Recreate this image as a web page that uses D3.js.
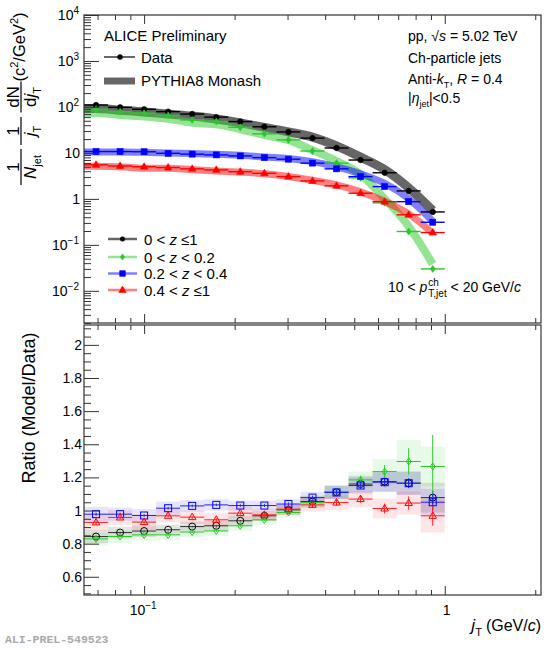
<!DOCTYPE html>
<html><head><meta charset="utf-8">
<script src="https://cdn.jsdelivr.net/npm/d3@7"></script>
<style>
body{margin:0;background:#fff}
svg{display:block}
text{font-family:"Liberation Sans",Arial,Helvetica,sans-serif;fill:#000}
</style>
</head><body>
<svg id="c" width="556" height="650"></svg>
<script>
// ---------------- DATA ----------------
const binEdges = [0.0631,0.0759,0.0912,0.1096,0.1318,0.1585,0.1905,0.2291,0.2754,0.3311,0.3981,0.4786,0.5754,0.6918,0.8318,1.0];
const jT       = [0.0692,0.0832,0.1000,0.1202,0.1445,0.1738,0.2089,0.2512,0.3020,0.3631,0.4365,0.5248,0.6310,0.7586,0.9120];

const dataAll = [110,98,89,79,70,60,48,37,28.6,21,12.8,7.0,3.7,1.49,0.52];
const dataZ1  = [89,79,73,65,52,48,36,26,19.2,11.0,6.0,2.86,0.82,0.195,0.030];
const dataZ2  = [10.7,10.7,10.6,9.8,9.4,9.05,8.6,7.9,7.3,6.0,4.5,3.05,1.85,0.87,0.31];
const dataZ3  = [5.5,5.2,5.0,4.8,4.5,4.27,3.9,3.6,3.05,2.46,1.92,1.33,0.87,0.45,0.185];

const modelAll = [92.7,85.0,78.0,69.8,63.2,54.5,45.0,35.8,28.7,22.1,14.2,8.1,4.35,1.74,0.56];
const modelZ1  = [73.8,66.6,62.3,55.4,45.2,42.1,32.7,24.5,19.0,11.5,6.67,3.39,1.01,0.253,0.038];
const modelZ2  = [10.46,10.46,10.28,9.94,9.66,9.36,8.86,8.14,7.58,6.47,4.99,3.51,2.17,1.01,0.326];
const modelZ3  = [5.10,4.98,4.65,4.65,4.32,4.03,3.84,3.51,3.07,2.54,2.01,1.42,0.88,0.47,0.179];

const ratioAll = [0.843,0.867,0.876,0.884,0.903,0.908,0.938,0.968,1.004,1.054,1.111,1.160,1.175,1.165,1.078];
const ratioZ1  = [0.829,0.843,0.853,0.853,0.870,0.877,0.908,0.944,0.988,1.048,1.111,1.185,1.235,1.296,1.266];
const ratioZ2  = [0.978,0.978,0.970,1.014,1.028,1.034,1.030,1.030,1.039,1.078,1.109,1.151,1.171,1.165,1.050];
const ratioZ3  = [0.928,0.958,0.930,0.968,0.960,0.944,0.984,0.974,1.008,1.034,1.048,1.069,1.012,1.045,0.968];

const statAll = [0.006,0.005,0.005,0.005,0.005,0.005,0.005,0.006,0.007,0.008,0.010,0.012,0.015,0.020,0.040];
const statZ1  = [0.008,0.006,0.006,0.006,0.006,0.006,0.007,0.008,0.010,0.012,0.015,0.025,0.040,0.080,0.190];
const statZ2  = [0.010,0.008,0.008,0.008,0.008,0.008,0.008,0.009,0.010,0.012,0.015,0.020,0.025,0.030,0.050];
const statZ3  = [0.012,0.010,0.010,0.010,0.010,0.010,0.010,0.012,0.013,0.015,0.018,0.022,0.030,0.040,0.060];

const systAll = [0.040,0.035,0.035,0.030,0.030,0.030,0.030,0.030,0.030,0.035,0.040,0.050,0.060,0.070,0.090];
const systZ1  = [0.040,0.040,0.035,0.030,0.030,0.030,0.030,0.030,0.030,0.035,0.040,0.050,0.075,0.130,0.120];
const systZ2  = [0.045,0.040,0.040,0.040,0.035,0.035,0.030,0.030,0.030,0.035,0.040,0.050,0.060,0.070,0.080];
const systZ3  = [0.050,0.045,0.045,0.040,0.040,0.040,0.040,0.035,0.035,0.040,0.045,0.050,0.060,0.070,0.100];

const topYTicks = [1e4,1e3,1e2,10,1,0.1,0.01];
const topYLabels = [["10","4"],["10","3"],["10","2"],["10",null],["1",null],["10","\u22121"],["10","\u22122"]];
const xLabelVals = [0.1,1];
const xLabels = [["10","\u22121"],["1",null]];

// ---------------- SETUP ----------------
const svg = d3.select("#c");
const X0=84, X1=541, TT=15, TB=323, BT=325, BB=595;
const x = d3.scaleLog().domain([0.0631, 2.09]).range([X0, X1]);
const yTop = d3.scaleLog().domain([Math.pow(10,-2.7), 1e4]).range([TB, TT]);
const yBot = d3.scaleLinear().domain([0.49, 2.12]).range([BB, BT]);

const series = [
  {data:dataAll, model:modelAll, ratio:ratioAll, stat:statAll, syst:systAll, col:"#000000", bar:"#333", band:"rgba(0,0,0,0.6)", bandW:9, box:"rgba(0,0,0,0.11)", mk:"circle",
   label:[{t:"0 < "},{t:"z",it:1},{t:" \u22641"}]},
  {data:dataZ1, model:modelZ1, ratio:ratioZ1, stat:statZ1, syst:systZ1, col:"#2fc42f", bar:"#2fc42f", band:"rgba(60,205,60,0.55)", bandW:8, box:"rgba(40,200,40,0.11)", mk:"diamond",
   label:[{t:"0 < "},{t:"z",it:1},{t:" < 0.2"}]},
  {data:dataZ2, model:modelZ2, ratio:ratioZ2, stat:statZ2, syst:systZ2, col:"#0000ff", bar:"#2020ff", band:"rgba(0,0,255,0.5)", bandW:7, box:"rgba(0,0,255,0.10)", mk:"square",
   label:[{t:"0.2 < "},{t:"z",it:1},{t:" < 0.4"}]},
  {data:dataZ3, model:modelZ3, ratio:ratioZ3, stat:statZ3, syst:systZ3, col:"#ff0000", bar:"#ff2020", band:"rgba(255,0,0,0.5)", bandW:7, box:"rgba(255,0,0,0.10)", mk:"triangle",
   label:[{t:"0.4 < "},{t:"z",it:1},{t:" \u22641"}]}
];

// rich text helper: pieces laid out horizontally with measurement
function rich(parent, px, py, pieces, size, anchor){
  const g = parent.append("g");
  let cx = 0;
  pieces.forEach(p=>{
    if(p.stack){
      const fs = p.size || size*0.7;
      const a = g.append("text").attr("x",cx).attr("y",-size*0.45).attr("font-size",fs).text(p.stack[0].replace(/ /g,"\u00A0"));
      const b = g.append("text").attr("x",cx).attr("y",size*0.33).attr("font-size",fs).text(p.stack[1].replace(/ /g,"\u00A0"));
      cx += Math.max(a.node().getComputedTextLength(), b.node().getComputedTextLength());
    } else {
      const fs = p.sup||p.sub ? (p.size||size*0.7) : (p.size||size);
      const dy = p.sup ? -size*0.42 : (p.sub ? size*0.3 : 0);
      const t = g.append("text").attr("x",cx).attr("y",dy).attr("font-size",fs)
        .attr("font-style",p.it?"italic":"normal").text(p.t.replace(/ /g,"\u00A0"));
      cx += t.node().getComputedTextLength() + (p.gap||0);
    }
  });
  let ox = px;
  if(anchor==="end") ox = px - cx;
  else if(anchor==="middle") ox = px - cx/2;
  g.attr("transform",`translate(${ox},${py})`);
  return g;
}

function marker(g, type, cx, cy, s, filled, color){
  const fill = filled ? color : "none";
  let el;
  if(type==="circle"){
    el = g.append("circle").attr("cx",cx).attr("cy",cy).attr("r",s/2);
  } else if(type==="square"){
    el = g.append("rect").attr("x",cx-s/2).attr("y",cy-s/2).attr("width",s).attr("height",s);
  } else if(type==="triangle"){
    const h = s*0.866;
    el = g.append("path").attr("d",`M${cx},${cy-h*0.62}L${cx+s/2},${cy+h*0.38}L${cx-s/2},${cy+h*0.38}Z`);
  } else {
    const hw=s*0.36, hh=s/2;
    el = g.append("path").attr("d",`M${cx},${cy-hh}L${cx+hw},${cy}L${cx},${cy+hh}L${cx-hw},${cy}Z`);
  }
  el.attr("fill",fill).attr("stroke",color).attr("stroke-width",filled?0.6:1);
}

const defs = svg.append("defs");
defs.append("clipPath").attr("id","clipTop").append("rect").attr("x",X0).attr("y",TT).attr("width",X1-X0).attr("height",TB-TT);
defs.append("clipPath").attr("id","clipBot").append("rect").attr("x",X0).attr("y",BT).attr("width",X1-X0).attr("height",BB-BT);

// ---------------- TOP PANEL ----------------
const topG = svg.append("g").attr("clip-path","url(#clipTop)");
const bandLine = d3.line().x(d=>x(d[0])).y(d=>yTop(d[1])).curve(d3.curveMonotoneX);
series.forEach(s=>{
  const pts = [[binEdges[0], s.model[0]]].concat(jT.map((v,i)=>[v, s.model[i]]));
  topG.append("path").attr("d",bandLine(pts)).attr("fill","none").attr("stroke",s.band)
     .attr("stroke-width",s.bandW).attr("stroke-linecap","butt");
});
series.forEach(s=>{
  const g = topG.append("g");
  s.data.forEach((v,i)=>{
    g.append("line").attr("x1",x(binEdges[i])).attr("x2",x(binEdges[i+1]))
      .attr("y1",yTop(v)).attr("y2",yTop(v)).attr("stroke",s.col).attr("stroke-width",1.4);
    const sz = s.mk==="circle"?5.5:(s.mk==="diamond"?7:(s.mk==="square"?6:7.5));
    marker(g, s.mk, x(jT[i]), yTop(v), sz, true, s.col);
  });
});

// ---------------- BOTTOM PANEL ----------------
const botG = svg.append("g").attr("clip-path","url(#clipBot)");
series.forEach(s=>{
  s.ratio.forEach((r,i)=>{
    botG.append("rect").attr("x",x(binEdges[i])).attr("width",x(binEdges[i+1])-x(binEdges[i]))
      .attr("y",yBot(r+s.syst[i])).attr("height",yBot(r-s.syst[i])-yBot(r+s.syst[i]))
      .attr("fill",s.box);
  });
});
series.forEach(s=>{
  const g = botG.append("g");
  s.ratio.forEach((r,i)=>{
    g.append("line").attr("x1",x(binEdges[i])).attr("x2",x(binEdges[i+1]))
      .attr("y1",yBot(r)).attr("y2",yBot(r)).attr("stroke",s.bar).attr("stroke-width",1);
    g.append("line").attr("x1",x(jT[i])).attr("x2",x(jT[i]))
      .attr("y1",yBot(r-s.stat[i])).attr("y2",yBot(r+s.stat[i])).attr("stroke",s.bar).attr("stroke-width",1);
    const sz = s.mk==="circle"?7:(s.mk==="diamond"?7:(s.mk==="square"?7:7.5));
    marker(g, s.mk, x(jT[i]), yBot(r), sz, false, s.col);
  });
});

// ---------------- AXES / FRAMES ----------------
const axCol = "#333";
function styleAxis(sel){
  sel.select(".domain").remove();
  sel.selectAll(".tick line").attr("stroke",axCol).attr("stroke-width",1);
  sel.selectAll(".tick text").remove();
}
const xMajor = x.ticks().filter(v=>Math.abs(Math.log10(v)-Math.round(Math.log10(v)))<1e-6);
const xMinor = x.ticks().filter(v=>!xMajor.includes(v));
[[TT,"top"],[TB,"bottom"],[BT,"top"],[BB,"bottom"]].forEach(([yy,side])=>{
  const mk = side==="top" ? d3.axisTop : d3.axisBottom;
  svg.append("g").attr("transform",`translate(0,${yy})`).call(mk(x).tickValues(xMajor).tickSize(-9).tickFormat("")).call(styleAxis);
  svg.append("g").attr("transform",`translate(0,${yy})`).call(mk(x).tickValues(xMinor).tickSize(-5).tickFormat("")).call(styleAxis);
});
const yTopAll = yTop.ticks();
const yTopMajor = yTopAll.filter(v=>Math.abs(Math.log10(v)-Math.round(Math.log10(v)))<1e-6);
const yTopMinor = yTopAll.filter(v=>!yTopMajor.includes(v));
svg.append("g").attr("transform",`translate(${X0},0)`).call(d3.axisLeft(yTop).tickValues(yTopMajor).tickSize(-15).tickFormat("")).call(styleAxis);
svg.append("g").attr("transform",`translate(${X0},0)`).call(d3.axisLeft(yTop).tickValues(yTopMinor).tickSize(-7).tickFormat("")).call(styleAxis);
const yBotMajor = yBot.ticks(8);
const yBotMinor = yBot.ticks(30).filter(v=>!yBotMajor.some(m=>Math.abs(m-v)<1e-9));
svg.append("g").attr("transform",`translate(${X0},0)`).call(d3.axisLeft(yBot).tickValues(yBotMajor).tickSize(-15).tickFormat("")).call(styleAxis);
svg.append("g").attr("transform",`translate(${X0},0)`).call(d3.axisLeft(yBot).tickValues(yBotMinor).tickSize(-7).tickFormat("")).call(styleAxis);

svg.append("rect").attr("x",X0).attr("y",TT).attr("width",X1-X0).attr("height",TB-TT).attr("fill","none").attr("stroke",axCol).attr("stroke-width",1.2);
svg.append("rect").attr("x",X0).attr("y",BT).attr("width",X1-X0).attr("height",BB-BT).attr("fill","none").attr("stroke",axCol).attr("stroke-width",1.2);

// tick labels
topYTicks.forEach((v,i)=>{
  const [b,e] = topYLabels[i];
  const p = [{t:b}]; if(e) p.push({t:e, sup:1, size:10});
  rich(svg, e?79:80, yTop(v)+5, p, 14, "end");
});
yBotMajor.forEach(v=>{
  svg.append("text").attr("x",82).attr("y",yBot(v)+5).attr("font-size",14).attr("text-anchor","end").text(d3.format("~g")(v));
});
xLabelVals.forEach((v,i)=>{
  const [b,e] = xLabels[i];
  const p = [{t:b}]; if(e) p.push({t:e, sup:1, size:10});
  rich(svg, x(v)+(e?-1:2), 615, p, 14, "middle");
});

// axis titles
rich(svg, 541, 631, [{t:"j",it:1,size:17},{t:"T",sub:1,size:11,gap:4},{t:"(GeV/"},{t:"c",it:1},{t:")"}], 16, "end");
svg.append("text").attr("transform","translate(35,408) rotate(-90)").attr("text-anchor","middle").attr("font-size",18).text("Ratio (Model/Data)");

const yt = svg.append("g").attr("transform","translate(21,102) rotate(-90)");
function frac(u, num, den, w){
  rich(yt, u, -2, num, 17, "middle");
  rich(yt, u, 14.5, den, 17, "middle");
  yt.append("line").attr("x1",u-w/2).attr("x2",u+w/2).attr("y1",0).attr("y2",0).attr("stroke","#000").attr("stroke-width",1.2);
}
frac(-65, [{t:"1"}], [{t:"N",it:1},{t:"jet",sub:1,size:11}], 36);
frac(-29, [{t:"1"}], [{t:"j",it:1},{t:"T",sub:1,size:11}], 28);
frac(5, [{t:"dN"}], [{t:"d"},{t:"j",it:1},{t:"T",sub:1,size:11}], 31);
rich(yt, 55, 4, [{t:"(c"},{t:"2",sup:1,size:11},{t:"/GeV"},{t:"2",sup:1,size:11},{t:")"}], 16.5, "middle");

// ---------------- LEGENDS & LABELS ----------------
svg.append("text").attr("x",104).attr("y",41).attr("font-size",15).text("ALICE Preliminary");
svg.append("line").attr("x1",104).attr("x2",135).attr("y1",57).attr("y2",57).attr("stroke","#000").attr("stroke-width",1.2);
marker(svg,"circle",120,57,5,true,"#000");
svg.append("text").attr("x",141).attr("y",63).attr("font-size",15).text("Data");
svg.append("line").attr("x1",104).attr("x2",135).attr("y1",81).attr("y2",81).attr("stroke","rgba(0,0,0,0.6)").attr("stroke-width",7);
svg.append("text").attr("x",141).attr("y",86).attr("font-size",15).text("PYTHIA8 Monash");

rich(svg, 408, 41, [{t:"pp, \u221A"},{t:"s",it:1},{t:" = 5.02 TeV"}], 14, "start");
rich(svg, 408, 63, [{t:"Ch-particle jets"}], 14, "start");
rich(svg, 408, 84, [{t:"Anti-"},{t:"k",it:1},{t:"T",sub:1,size:9},{t:", "},{t:"R",it:1},{t:" = 0.4"}], 14, "start");
rich(svg, 408, 103, [{t:"|"},{t:"\u03B7",it:1},{t:"jet",sub:1,size:9},{t:"|<0.5"}], 14, "start");

const legY = [239,257,273.5,290];
series.forEach((s,i)=>{
  svg.append("line").attr("x1",108).attr("x2",137).attr("y1",legY[i]).attr("y2",legY[i]).attr("stroke",s.band).attr("stroke-width",2.5);
  const sz = s.mk==="circle"?4.5:(s.mk==="diamond"?6:(s.mk==="square"?5.5:7.5));
  marker(svg, s.mk, 122.5, legY[i], sz, true, s.col);
  rich(svg, 144, legY[i]+5.5, s.label, 15, "start");
});

rich(svg, 388, 292, [{t:"10 < "},{t:"p",it:1,gap:1},{stack:["ch","T,jet"],size:10},{t:" < 20 GeV/"},{t:"c",it:1}], 14, "start");

svg.append("text").attr("x",5).attr("y",643).attr("font-size",11.5).attr("font-weight","bold")
   .style("font-family","'Liberation Mono','DejaVu Sans Mono',monospace")
   .style("fill","#a8a8a8").text("ALI-PREL-549523");
</script>
</body></html>
